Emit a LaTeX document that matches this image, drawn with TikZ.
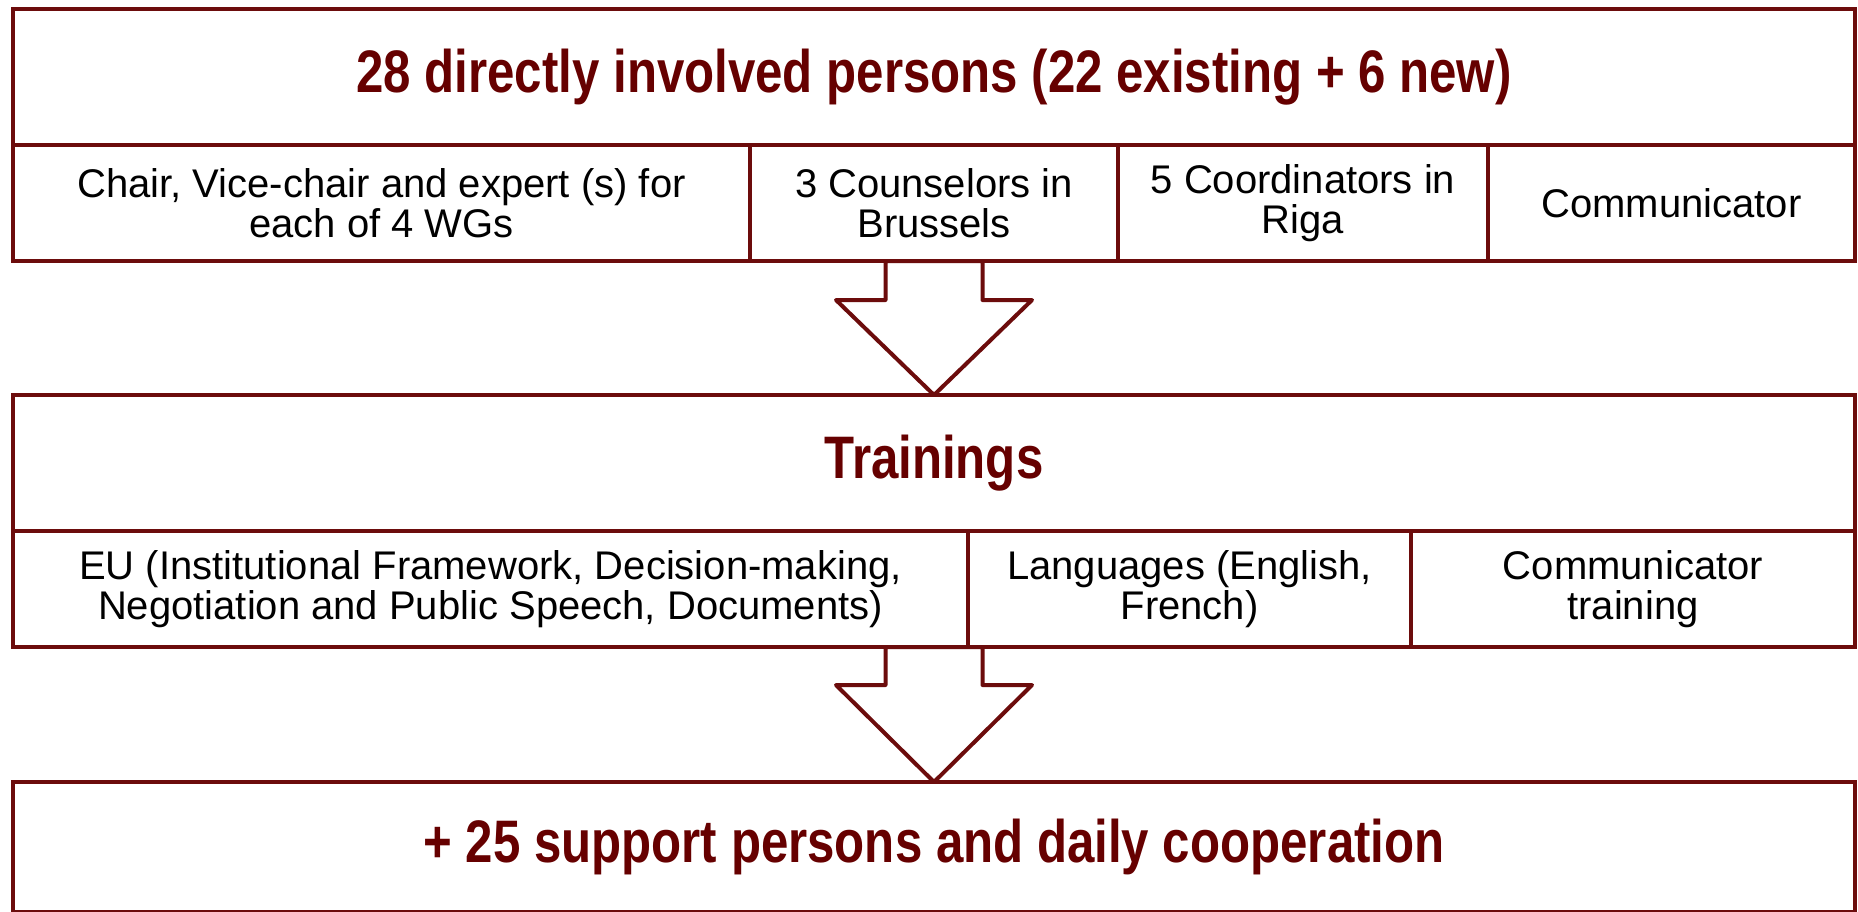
\documentclass[tikz,border=0pt]{standalone}
\usepackage{fontspec}
\setmainfont{Liberation Sans}
\newfontfamily\titlefont{Liberation Sans}[FakeStretch=0.82]
\usetikzlibrary{calc}
\definecolor{linec}{RGB}{108,12,12}
\definecolor{titlec}{RGB}{102,0,0}
\newcommand{\lowtext}[1]{\raisebox{-1.8pt}{#1}}
\begin{document}
\begin{tikzpicture}[x=0.5pt,y=-0.5pt,
  boxbase/.style={draw=linec, line width=2pt, outer sep=0pt, inner sep=0pt, align=center},
  cell/.style={boxbase, minimum height=58pt, font=\fontsize{20}{20}\selectfont, text=black},
  titlebox/.style={boxbase, minimum width=921pt, minimum height=68pt, font=\titlefont\bfseries\fontsize{30}{32}\selectfont, text=titlec},
  bigarrow/.style={draw=linec, line width=2pt, fill=white, line join=round}]
\useasboundingbox (0,0) rectangle (1858,911);
% top block
\node[titlebox] (t1) at (934,77) {\lowtext{28 directly involved persons (22 existing + 6 new)}};
\node[cell, minimum width=368.5pt] (c1) at (381.5,203) {Chair, Vice-chair and expert (s) for\\each of 4 WGs};
\node[cell, minimum width=184pt] (c2) at (934,203) {3 Counselors in\\Brussels};
\node[cell, minimum width=185pt] (c3) at (1303,203) {5 Coordinators in\\Riga};
\node[cell, minimum width=183.5pt] (c4) at (1671.5,203) {Communicator};
% middle block
\node[titlebox] (t2) at (934,463) {\lowtext{Trainings}};
\node[cell, minimum width=477.5pt] (d1) at (490.5,589) {EU (Institutional Framework, Decision-making,\\Negotiation and Public Speech, Documents)};
\node[cell, minimum width=221.5pt] (d2) at (1189.5,589) {Languages (English,\\French)};
\node[cell, minimum width=222pt] (d3) at (1633,589) {Communicator\\training};
% bottom block
\node[titlebox, minimum height=65pt] (t3) at (934,847) {\lowtext{+ 25 support persons and daily cooperation}};
% arrows
\coordinate (a1) at (c2.south);
\draw[bigarrow] ($(a1)+(-48.5,0)$) -- ++(0,39) -- ($(a1)+(-98,39)$) -- (t2.north)
  -- ($(a1)+(98,39)$) -- ($(a1)+(48.5,39)$) -- ($(a1)+(48.5,0)$) -- cycle;
\coordinate (a2) at (t2.center |- d1.south);
\draw[bigarrow] ($(a2)+(-48.5,0)$) -- ++(0,38) -- ($(a2)+(-98,38)$) -- (t3.north)
  -- ($(a2)+(98,38)$) -- ($(a2)+(48.5,38)$) -- ($(a2)+(48.5,0)$) -- cycle;
\end{tikzpicture}
\end{document}
